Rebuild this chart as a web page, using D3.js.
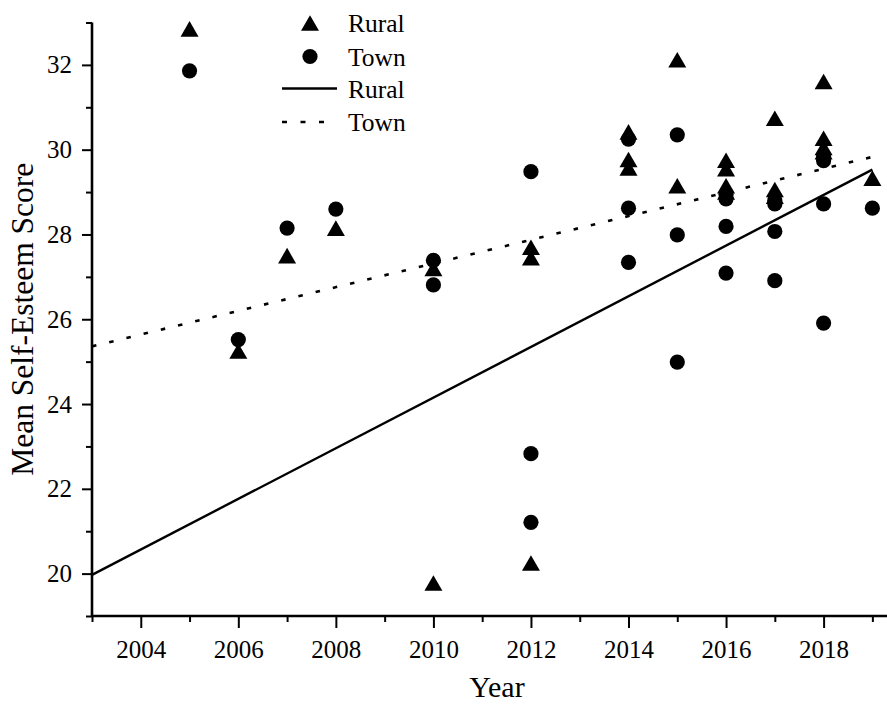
<!DOCTYPE html>
<html>
<head>
<meta charset="utf-8">
<script src="https://cdn.jsdelivr.net/npm/d3@7"></script>
<style>
  html, body { margin: 0; padding: 0; background: #fff; }
  svg { display: block; }
  text { font-family: "Liberation Serif", "Times New Roman", serif; fill: #000; }
</style>
</head>
<body>
<svg id="chart" width="887" height="704"></svg>
<script>
// Mean self-esteem score by survey year, rural vs town samples
const ruralYears  = [2005, 2006, 2007, 2008, 2010, 2010, 2012, 2012, 2012,
                     2014, 2014, 2014, 2015, 2015, 2016, 2016, 2016, 2016,
                     2017, 2017, 2017, 2018, 2018, 2018, 2018, 2019];
const ruralScores = [32.85, 25.25, 27.5, 28.15, 27.2, 19.78, 27.7, 27.45, 20.25,
                     30.42, 29.77, 29.57, 32.12, 29.15, 29.75, 29.55, 29.15, 29.0,
                     30.74, 29.06, 28.9, 31.61, 30.27, 30.05, 29.95, 29.33];

const townYears  = [2005, 2006, 2007, 2008, 2010, 2010, 2012, 2012, 2012,
                    2014, 2014, 2014, 2015, 2015, 2015, 2016, 2016, 2016, 2016,
                    2017, 2017, 2017, 2017, 2018, 2018, 2018, 2018, 2019];
const townScores = [31.86, 25.52, 28.15, 28.6, 27.39, 26.81, 29.48, 22.83, 21.21,
                    30.25, 28.62, 27.34, 30.35, 27.99, 24.99, 28.95, 28.84, 28.19, 27.09,
                    28.8, 28.72, 28.07, 26.91, 29.85, 29.74, 28.72, 25.91, 28.62];

// Linear fit end points (year, score)
const ruralFitYears  = [2003, 2019];
const ruralFitScores = [19.97, 29.53];
const townFitYears   = [2003, 2019];
const townFitScores  = [25.36, 29.83];

const xMajorTicks = [2004, 2006, 2008, 2010, 2012, 2014, 2016, 2018];
const xMinorTicks = [2003, 2005, 2007, 2009, 2011, 2013, 2015, 2017, 2019];
const yMajorTicks = [20, 22, 24, 26, 28, 30, 32];
const yMinorTicks = [19, 21, 23, 25, 27, 29, 31, 33];

const legendLabels = ["Rural", "Town", "Rural", "Town"];

const serif = "'Liberation Serif', 'Times New Roman', serif";
const svg = d3.select("#chart");

const x = d3.scaleLinear().domain([2003, 2019.3]).range([92, 887]);
const y = d3.scaleLinear().domain([19, 33]).range([616, 22.5]);

const ink = "#000";

// Axes: minor ticks (unlabelled) and major ticks (labelled)
const xAxisG = svg.append("g").attr("transform", `translate(0,${y(19)})`);
xAxisG.call(d3.axisBottom(x).tickValues(xMinorTicks).tickSize(6).tickFormat(""));
xAxisG.call(g => g.select(".domain").remove());
const xMajor = svg.append("g").attr("transform", `translate(0,${y(19)})`)
  .call(d3.axisBottom(x).tickValues(xMajorTicks).tickSize(12).tickPadding(12).tickFormat(d3.format("d")));
xMajor.attr("font-family", serif);
xMajor.selectAll("text").style("font-size", "25px").style("font-family", serif).attr("fill", ink);

const yAxisG = svg.append("g").attr("transform", `translate(${x(2003)},0)`);
yAxisG.call(d3.axisLeft(y).tickValues(yMinorTicks).tickSize(6).tickFormat(""));
yAxisG.call(g => g.select(".domain").remove());
const yMajor = svg.append("g").attr("transform", `translate(${x(2003)},0)`)
  .call(d3.axisLeft(y).tickValues(yMajorTicks).tickSize(10).tickPadding(10).tickFormat(d3.format("d")));
yMajor.attr("font-family", serif);
yMajor.selectAll("text").style("font-size", "25px").style("font-family", serif).attr("fill", ink);

svg.selectAll(".tick line").attr("stroke", ink).attr("stroke-width", 2);
// plain axis lines without the end caps of d3's domain path
xMajor.select(".domain").remove();
yMajor.select(".domain").remove();
svg.append("line")
  .attr("x1", x(2003)).attr("x2", x(2019.3))
  .attr("y1", y(19)).attr("y2", y(19))
  .attr("stroke", ink).attr("stroke-width", 2.6);
svg.append("line")
  .attr("x1", x(2003)).attr("x2", x(2003))
  .attr("y1", y(19)).attr("y2", y(33))
  .attr("stroke", ink).attr("stroke-width", 2.6);

// Axis titles
svg.append("text")
  .attr("x", 497).attr("y", 697)
  .attr("text-anchor", "middle")
  .style("font-size", "30px")
  .text("Year");
svg.append("text")
  .attr("transform", `translate(33,${(y(19) + y(33)) / 2}) rotate(-90)`)
  .attr("text-anchor", "middle")
  .style("font-size", "31.5px")
  .text("Mean Self-Esteem Score");

// Fit lines
const line = d3.line().x(d => x(d[0])).y(d => y(d[1]));
const ruralFit = ruralFitYears.map((yr, i) => [yr, ruralFitScores[i]]);
const townFit = townFitYears.map((yr, i) => [yr, townFitScores[i]]);

svg.append("path").datum(townFit)
  .attr("d", line)
  .attr("fill", "none").attr("stroke", ink)
  .attr("stroke-width", 2.6).attr("stroke-dasharray", "4.5,13.2");
svg.append("path").datum(ruralFit)
  .attr("d", line)
  .attr("fill", "none").attr("stroke", ink)
  .attr("stroke-width", 2.4);

// Markers
const triSide = 18;
const triH = triSide * Math.sqrt(3) / 2;
const triPath = `M0,${-triH / 2}L${triSide / 2},${triH / 2}L${-triSide / 2},${triH / 2}Z`;
const circR = 7.6;

svg.append("g").selectAll("path")
  .data(ruralYears.map((yr, i) => [yr, ruralScores[i]]))
  .join("path")
  .attr("d", triPath)
  .attr("transform", d => `translate(${x(d[0])},${y(d[1])})`)
  .attr("fill", ink);

svg.append("g").selectAll("circle")
  .data(townYears.map((yr, i) => [yr, townScores[i]]))
  .join("circle")
  .attr("cx", d => x(d[0])).attr("cy", d => y(d[1]))
  .attr("r", circR)
  .attr("fill", ink);

// Legend
const legend = svg.append("g");
const rowsY = [23, 56.5, 88.5, 122];
const textX = 348;
legend.append("path").attr("d", triPath)
  .attr("transform", `translate(310,${rowsY[0]})`).attr("fill", ink);
legend.append("circle").attr("cx", 310).attr("cy", rowsY[1]).attr("r", circR).attr("fill", ink);
legend.append("line")
  .attr("x1", 282).attr("x2", 337).attr("y1", rowsY[2]).attr("y2", rowsY[2])
  .attr("stroke", ink).attr("stroke-width", 2.4);
legend.append("line")
  .attr("x1", 282).attr("x2", 337).attr("y1", rowsY[3]).attr("y2", rowsY[3])
  .attr("stroke", ink).attr("stroke-width", 2.6).attr("stroke-dasharray", "5,13.5");
legend.selectAll("text.lab")
  .data(legendLabels)
  .join("text")
  .attr("class", "lab")
  .attr("x", textX)
  .attr("y", (d, i) => rowsY[i] + 9)
  .style("font-size", "25.5px")
  .text(d => d);
</script>
</body>
</html>
